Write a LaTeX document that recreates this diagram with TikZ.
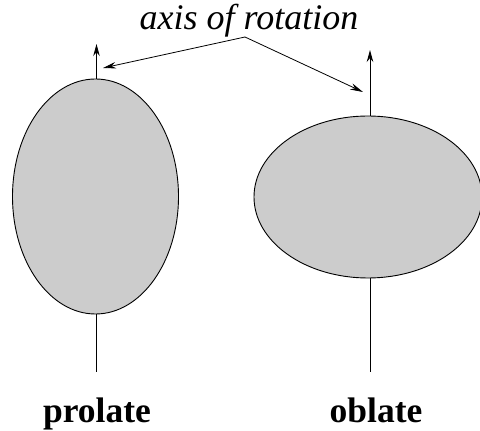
\documentclass[tikz,border=0pt]{standalone}
\usepackage{fontspec}
\setmainfont{Liberation Serif}
\usetikzlibrary{arrows.meta,shapes.geometric}
\begin{document}
\begin{tikzpicture}[x=1pt,y=1pt,
  body/.style={ellipse,draw=black,fill=black!20,line width=0.9pt,inner sep=0pt},
  axisline/.style={line width=0.9pt},
  axisarrow/.style={line width=0.9pt,-{Stealth[length=12pt,width=6.5pt]}},
  pointer/.style={line width=0.8pt,-{Stealth[length=13pt,width=6.5pt]}},
  lab/.style={anchor=base,inner sep=0pt}]
\useasboundingbox (0,0) rectangle (480,431);
% bodies
\node[body,minimum width=166pt,minimum height=235pt] (pro) at (95.5,234.5) {};
\node[body,minimum width=228pt,minimum height=162pt] (obl) at (368,234) {};
% axis ends
\coordinate (proTop) at (96.5,387);
\coordinate (proBot) at (96.5,59);
\coordinate (oblTop) at (370,381);
\coordinate (oblBot) at (370,59);
\draw[axisarrow] (pro.north -| proTop) -- (proTop);
\draw[axisline] (pro.south -| proBot) -- (proBot);
\draw[axisarrow] (obl.north -| oblTop) -- (oblTop);
\draw[axisline] (obl.south -| oblBot) -- (oblBot);
% label
\node[lab,font=\fontsize{36}{42}\selectfont\itshape] (axislabel) at (249,401) {axis of rotation};
\coordinate (src) at (245,394);
\coordinate (lt) at (103,363);
\coordinate (rt) at (363,339);
\draw[pointer] (src) -- (lt);
\draw[pointer] (src) -- (rt);
\node[lab,font=\fontsize{35.5}{40}\selectfont\bfseries] (prolab) at (97,8) {prolate};
\node[lab,font=\fontsize{35.5}{40}\selectfont\bfseries] (obllab) at (376,8) {oblate};
\end{tikzpicture}
\end{document}
